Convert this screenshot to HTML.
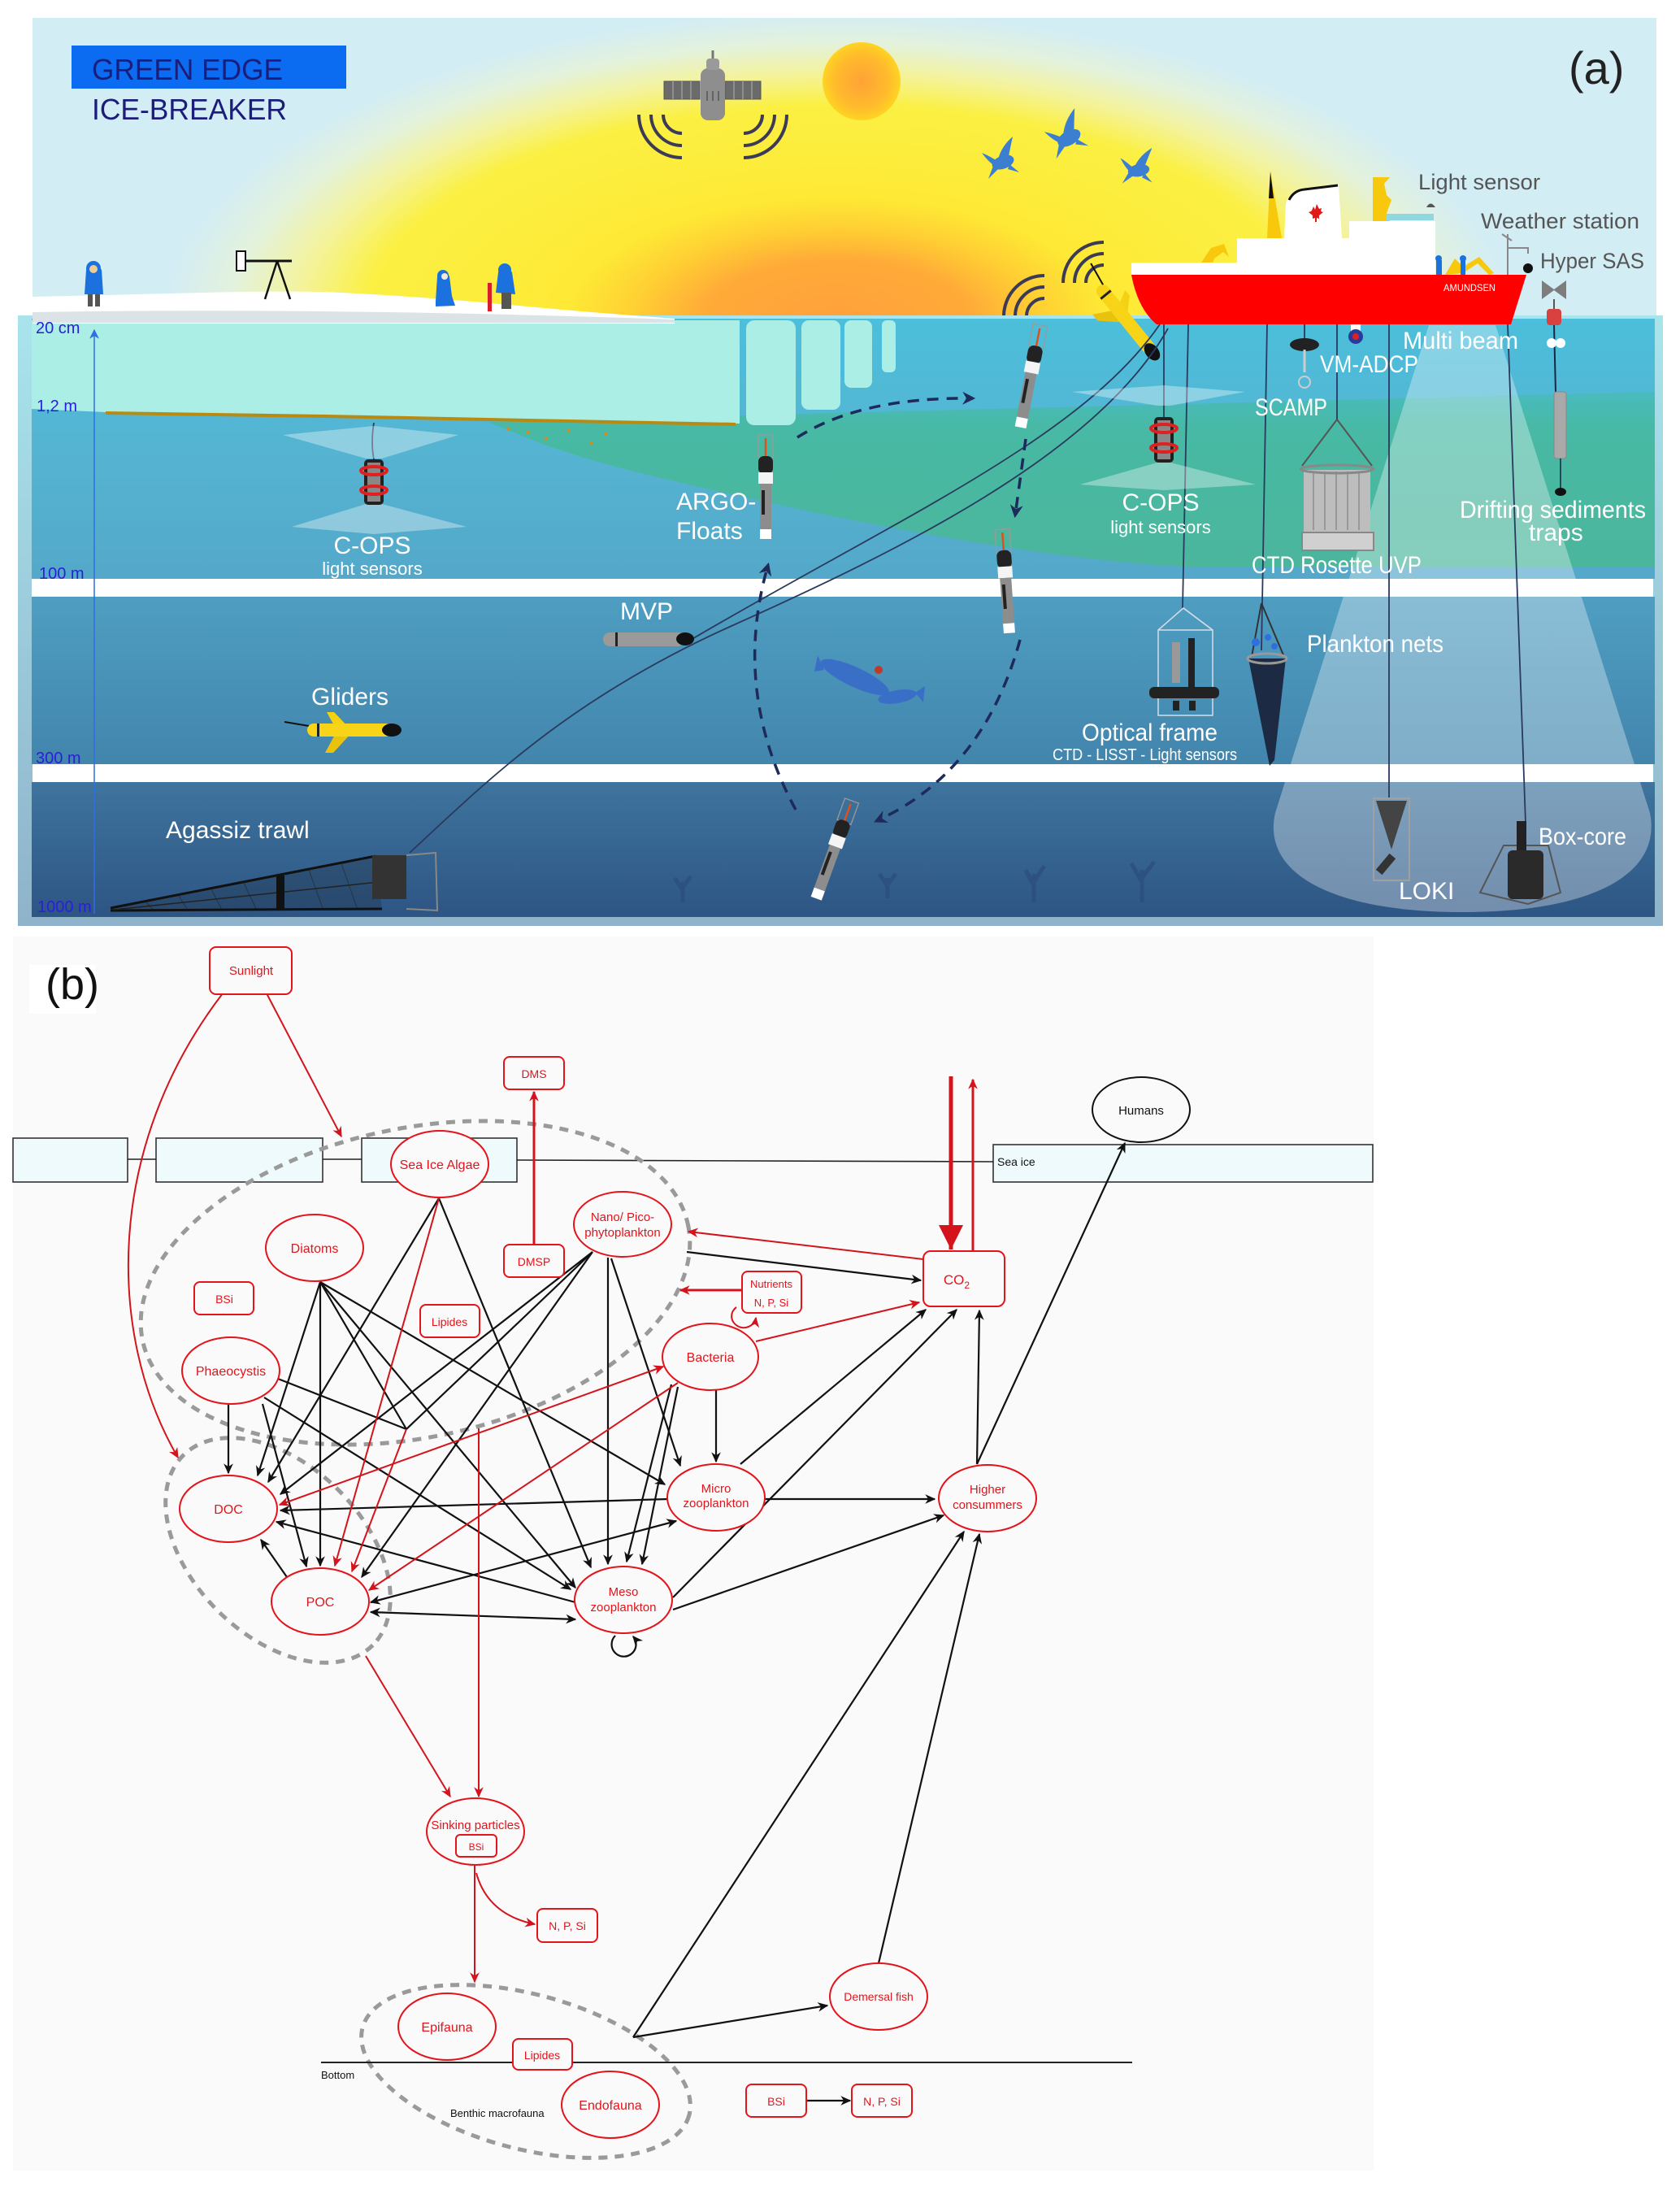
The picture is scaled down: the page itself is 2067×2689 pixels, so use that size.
<!DOCTYPE html>
<html><head><meta charset="utf-8"><style>
html,body{margin:0;padding:0;background:#fff;}
svg{display:block;}
text{font-family:"Liberation Sans",Arial,sans-serif;}
</style></head><body>
<svg width="2067" height="2689" viewBox="0 0 2067 2689" xmlns="http://www.w3.org/2000/svg">
<defs>
<radialGradient id="gGlow" cx="0.5" cy="0.5" r="0.5">
<stop offset="0" stop-color="#ffa03c"/>
<stop offset="0.2" stop-color="#ffab38"/>
<stop offset="0.3" stop-color="#ffcf33"/>
<stop offset="0.4" stop-color="#fee935"/>
<stop offset="0.7" stop-color="#fbf043"/>
<stop offset="0.8" stop-color="#f4f39a"/>
<stop offset="0.9" stop-color="#e3f2dc"/>
<stop offset="1" stop-color="#d3edf5"/>
</radialGradient>
<radialGradient id="gSun" cx="0.5" cy="0.5" r="0.5">
<stop offset="0" stop-color="#ffa236"/>
<stop offset="0.7" stop-color="#ffbc2c"/>
<stop offset="1" stop-color="#ffd422"/>
</radialGradient>
<linearGradient id="gFrame" x1="0" y1="0" x2="0" y2="1">
<stop offset="0" stop-color="#a9e4ec"/>
<stop offset="1" stop-color="#8fb3ca"/>
</linearGradient>
<linearGradient id="gSurf" x1="0" y1="0" x2="0" y2="1">
<stop offset="0" stop-color="#4bbfdb"/>
<stop offset="0.5" stop-color="#55b4d2"/>
<stop offset="1" stop-color="#54a8c9"/>
</linearGradient>
<linearGradient id="gMid" x1="0" y1="0" x2="0" y2="1">
<stop offset="0" stop-color="#4f9ec2"/>
<stop offset="1" stop-color="#4285ad"/>
</linearGradient>
<linearGradient id="gDeep" x1="0" y1="0" x2="0" y2="1">
<stop offset="0" stop-color="#3e749e"/>
<stop offset="1" stop-color="#2e5584"/>
</linearGradient>
<linearGradient id="gGreen" gradientUnits="userSpaceOnUse" x1="0" y1="470" x2="0" y2="700">
<stop offset="0" stop-color="#49bcc6"/>
<stop offset="0.25" stop-color="#48b9a4"/>
<stop offset="1" stop-color="#4bb69c"/>
</linearGradient>
<marker id="ab" viewBox="0 0 10 10" refX="9" refY="5" markerWidth="13" markerHeight="13" markerUnits="userSpaceOnUse" orient="auto-start-reverse"><path d="M0,0.5 L10,5 L0,9.5 L3,5 Z" fill="#111"/></marker>
<marker id="ar" viewBox="0 0 10 10" refX="9" refY="5" markerWidth="13" markerHeight="13" markerUnits="userSpaceOnUse" orient="auto-start-reverse"><path d="M0,0.5 L10,5 L0,9.5 L3,5 Z" fill="#d3141c"/></marker>
<marker id="arb" viewBox="0 0 10 10" refX="10" refY="5" markerWidth="30" markerHeight="30" markerUnits="userSpaceOnUse" orient="auto"><path d="M0,0 L10,5 L0,10 Z" fill="#d3141c"/></marker>
<marker id="ad" viewBox="0 0 10 10" refX="8" refY="5" markerWidth="16" markerHeight="16" markerUnits="userSpaceOnUse" orient="auto"><path d="M0,0 L10,5 L0,10 L3,5 Z" fill="#1e2a5a"/></marker>
<marker id="abl" viewBox="0 0 10 10" refX="9" refY="5" markerWidth="12" markerHeight="12" markerUnits="userSpaceOnUse" orient="auto-start-reverse"><path d="M0,0 L10,5 L0,10 L3,5 Z" fill="#2f6fe0"/></marker>
<clipPath id="skyClip"><rect x="40" y="22" width="1998" height="372"/></clipPath>
<g id="float">
<rect x="-9" y="0" width="18" height="28" fill="none" stroke="#9a9a9a" stroke-width="1.3"/>
<line x1="0" y1="4" x2="0" y2="26" stroke="#e0501a" stroke-width="2.5"/>
<rect x="-9" y="26" width="18" height="22" rx="7" fill="#222"/>
<rect x="-9" y="46" width="18" height="14" fill="#f4f4f4"/>
<rect x="-7" y="60" width="14" height="56" fill="#8d8d8d"/>
<rect x="-5" y="68" width="4" height="30" fill="#222"/>
<rect x="-7" y="116" width="14" height="12" fill="#fff"/>
</g>
<g id="glider">
<line x1="2" y1="-5" x2="-28" y2="-10" stroke="#111" stroke-width="2"/>
<path d="M36,0 L24,-22 L33,-22 L54,0 Z" fill="#f5d114"/>
<path d="M36,2 L22,28 L32,28 L56,2 Z" fill="#e8c20c"/>
<rect x="0" y="-8" width="104" height="16" rx="8" fill="#f7d417"/>
<rect x="12" y="-8" width="3" height="16" fill="#222"/>
<ellipse cx="104" cy="0" rx="12" ry="8" fill="#111"/>
</g>
<g id="cops">
<rect x="-12" y="0" width="24" height="56" rx="5" fill="#222"/>
<rect x="-8" y="4" width="16" height="48" fill="#888"/>
<ellipse cx="0" cy="14" rx="16" ry="5" fill="none" stroke="#e02020" stroke-width="4"/>
<ellipse cx="0" cy="38" rx="16" ry="5" fill="none" stroke="#e02020" stroke-width="4"/>
</g>
<g id="bird">
<ellipse cx="0" cy="6" rx="14" ry="8" fill="#3c7fd1" transform="rotate(-20)"/>
<path d="M-4,2 Q0,-14 14,-26 Q10,-8 8,4 Z" fill="#3c7fd1"/>
<path d="M-2,6 Q-14,-2 -24,-6 Q-14,8 -4,12 Z" fill="#3c7fd1"/>
<path d="M10,8 L22,18 L8,14 Z" fill="#3c7fd1"/>
<path d="M-10,10 L-16,26 L-4,14 Z" fill="#3c7fd1"/>
</g>
</defs>

<!-- ================= PANEL A ================= -->
<rect x="40" y="22" width="1998" height="372" fill="#d3edf5"/>
<g clip-path="url(#skyClip)">
<ellipse cx="1030" cy="395" rx="830" ry="380" fill="url(#gGlow)"/>
</g>
<circle cx="1060" cy="100" r="48" fill="url(#gSun)"/>

<!-- satellite -->
<g>
<rect x="817" y="100" width="44" height="22" fill="#6b6b6b" stroke="#555" stroke-width="1"/>
<rect x="892" y="100" width="44" height="22" fill="#6b6b6b" stroke="#555" stroke-width="1"/>
<path d="M828,100 V122 M839,100 V122 M850,100 V122 M903,100 V122 M914,100 V122 M925,100 V122" stroke="#999" stroke-width="1.5"/>
<rect x="862" y="84" width="30" height="64" rx="9" fill="#8e8e8e"/>
<rect x="869" y="72" width="16" height="14" rx="4" fill="#9a9a9a"/>
<line x1="877" y1="62" x2="877" y2="72" stroke="#777" stroke-width="3"/>
<path d="M870,112 V124 M877,112 V124 M884,112 V124" stroke="#555" stroke-width="1.5"/>
</g>
<g fill="none" stroke="#3b3b58" stroke-width="4">
<path d="M816,141 A23,23 0 0 0 839,164"/>
<path d="M801,141 A38,38 0 0 0 839,179"/>
<path d="M786,141 A53,53 0 0 0 839,194"/>
<path d="M938,141 A23,23 0 0 1 915,164"/>
<path d="M953,141 A38,38 0 0 1 915,179"/>
<path d="M968,141 A53,53 0 0 1 915,194"/>
</g>

<!-- birds -->
<use href="#bird" transform="translate(1232,194) scale(1.0)"/>
<use href="#bird" transform="translate(1312,164) scale(1.1) rotate(-10)"/>
<use href="#bird" transform="translate(1400,204) scale(0.95) rotate(10)"/>

<!-- title -->
<rect x="88" y="56" width="338" height="53" fill="#0b6cf2"/>
<text x="113" y="98" font-size="36" fill="#1c1c7a" textLength="235" lengthAdjust="spacingAndGlyphs">GREEN EDGE</text>
<text x="113" y="147" font-size="36" fill="#1c1c7a" textLength="240" lengthAdjust="spacingAndGlyphs">ICE-BREAKER</text>
<text x="1930" y="103" font-size="56" fill="#222">(a)</text>

<!-- ship signal arcs -->
<g fill="none" stroke="#3b3b58" stroke-width="4">
<path d="M1263,389 A22,22 0 0 1 1285,367"/>
<path d="M1249,389 A36,36 0 0 1 1285,353"/>
<path d="M1235,389 A50,50 0 0 1 1285,339"/>
<path d="M1336,348 A22,22 0 0 1 1358,326"/>
<path d="M1322,348 A36,36 0 0 1 1358,312"/>
<path d="M1308,348 A50,50 0 0 1 1358,298"/>
</g>

<!-- water tank -->
<rect x="22" y="388" width="2024" height="751" fill="url(#gFrame)"/>
<rect x="39" y="392" width="1997" height="320" fill="url(#gSurf)"/>
<path d="M600,519 L2036,482 L2036,697 L1460,697 C1300,690 1100,650 1000,630 C900,608 760,578 700,557 C660,545 630,530 600,519 Z" fill="url(#gGreen)"/>
<rect x="39" y="734" width="1997" height="206" fill="url(#gMid)"/>
<rect x="39" y="962" width="1997" height="166" fill="url(#gDeep)"/>
<rect x="39" y="712" width="1995" height="22" fill="#fff"/>
<rect x="40" y="940" width="1994" height="22" fill="#fff"/>

<!-- multi beam cone -->
<path d="M1758,400 L1840,400 L2030,1000 C2045,1075 1960,1122 1800,1122 C1640,1122 1552,1075 1569,1000 Z" fill="#fff" fill-opacity="0.33"/>

<!-- ice slab -->
<path d="M39,394 L910,394 L910,521 L700,517 L130,507 L39,503 Z" fill="#aaeee6"/>
<path d="M130,508 L400,512 L700,518 L905,522" fill="none" stroke="#b98a12" stroke-width="4"/>
<g fill="#d98a1c">
<circle cx="650" cy="532" r="2"/><circle cx="672" cy="540" r="2"/><circle cx="700" cy="530" r="2"/><circle cx="728" cy="545" r="2"/><circle cx="745" cy="534" r="2"/><circle cx="625" cy="528" r="2"/>
</g>
<rect x="918" y="394" width="61" height="129" rx="10" fill="#aaeee6"/>
<rect x="986" y="394" width="48" height="110" rx="9" fill="#aaeee6"/>
<rect x="1039" y="394" width="34" height="83" rx="8" fill="#aaeee6"/>
<rect x="1085" y="394" width="17" height="64" rx="6" fill="#aaeee6"/>

<!-- snow -->
<path d="M40,365 C200,362 330,356 420,360 C560,367 650,378 740,385 L830,392 L830,398 L40,398 Z" fill="#ffffff"/>
<path d="M40,384 Q400,378 830,393 L830,397 L40,397 Z" fill="#dbe3e6"/>

<!-- people & tripod -->
<g>
<rect x="108" y="360" width="6" height="17" fill="#555"/><rect x="117" y="360" width="6" height="17" fill="#555"/>
<path d="M104,362 L106,332 Q115,316 125,332 L127,362 Z" fill="#1b72de"/>
<circle cx="115" cy="330" r="9" fill="#1b72de"/><circle cx="115" cy="331" r="5" fill="#f0cc95"/>
<rect x="291" y="309" width="11" height="24" fill="#fff" stroke="#111" stroke-width="2"/>
<line x1="302" y1="321" x2="359" y2="321" stroke="#111" stroke-width="3"/>
<path d="M341,321 L326,368 M341,321 L357,368" stroke="#111" stroke-width="2.5"/>
<path d="M536,370 L538,340 Q546,326 553,340 L556,364 L560,376 L536,377 Z" fill="#1b72de"/>
<circle cx="545" cy="339" r="7" fill="#1b72de"/><circle cx="547" cy="340" r="4" fill="#f3e9d8"/>
<rect x="600" y="348" width="5" height="35" fill="#d81e2a"/>
<path d="M610,360 L613,335 Q620,322 630,335 L634,362 Z" fill="#1b72de"/>
<circle cx="621" cy="332" r="8" fill="#1b72de"/>
<rect x="617" y="360" width="12" height="20" fill="#555"/>
</g>

<!-- ship -->
<g>
<path d="M1563,211 L1559,293 L1577,293 Z" fill="#f7c80c"/>
<path d="M1563,211 L1561,244 L1567,244 Z" fill="#111"/>
<path d="M1689,218 L1710,218 L1703,226 L1706,240 L1712,246 L1706,262 L1710,272 L1689,272 Z" fill="#f7c80c"/>
<path d="M1580,293 L1582,250 Q1588,236 1600,234 L1647,228 L1651,293 Z" fill="#fff"/>
<path d="M1586,246 Q1592,234 1605,233 L1646,228" fill="none" stroke="#111" stroke-width="3"/>
<path d="M1614,259 l2,-5 2,4 2,-7 3,6 3,-1 -1,4 3,1 -5,4 0,4 -3,-1 0,5 -2,0 0,-5 -3,1 0,-4 -5,-4 3,-1 z" fill="#e01818"/>
<rect x="1660" y="272" width="106" height="22" fill="#fff"/>
<rect x="1705" y="263" width="59" height="8" fill="#8fd8e0"/>
<rect x="1522" y="293" width="244" height="31" fill="#fff"/>
<rect x="1392" y="323" width="374" height="16" fill="#fff"/>
<path d="M1478,323 L1490,305 L1506,300 L1512,316 L1505,310 L1494,318 L1492,323 Z" fill="#f7c80c"/>
<path d="M1778,338 L1790,318 L1800,328 L1820,316 L1838,336 L1832,338 L1818,324 L1800,336 Z" fill="#f7c80c"/>
<rect x="1767" y="320" width="7" height="18" fill="#1b72de"/><circle cx="1770" cy="318" r="4" fill="#1b72de"/>
<rect x="1797" y="320" width="6" height="18" fill="#1b72de"/><circle cx="1800" cy="318" r="4" fill="#1b72de"/>
<line x1="1855" y1="288" x2="1855" y2="338" stroke="#888" stroke-width="2"/>
<path d="M1848,288 L1860,296 M1855,305 L1880,305 L1880,312" stroke="#888" stroke-width="2" fill="none"/>
<circle cx="1880" cy="330" r="6" fill="#111"/>
<path d="M1755,255 Q1760,246 1766,255 Z" fill="#555"/>
<path d="M1392,338 L1878,338 L1859,399 L1423,399 Q1400,380 1392,338 Z" fill="#ff0000"/>
<text x="1776" y="358" font-size="12" fill="#fff" textLength="64" lengthAdjust="spacingAndGlyphs">AMUNDSEN</text>
</g>
<!-- hyper sas -->
<path d="M1897,345 L1912,356 L1927,345 L1927,368 L1912,357 L1897,368 Z" fill="#7d7d7d"/>
<line x1="1912" y1="368" x2="1912" y2="385" stroke="#555" stroke-width="2"/>
<rect x="1903" y="380" width="18" height="20" rx="4" fill="#d94040"/>
<line x1="1912" y1="400" x2="1914" y2="482" stroke="#1a2740" stroke-width="2"/>
<circle cx="1909" cy="422" r="6" fill="#fff"/><circle cx="1920" cy="422" r="6" fill="#fff"/>
<rect x="1912" y="482" width="15" height="82" rx="3" fill="#a9a9a9" stroke="#888"/>
<line x1="1920" y1="564" x2="1920" y2="600" stroke="#1a2740" stroke-width="1.5"/>
<ellipse cx="1920" cy="605" rx="7" ry="5" fill="#111"/>

<!-- surface glider -->
<use href="#glider" transform="translate(1352,352) rotate(51)"/>

<!-- cables -->
<g fill="none" stroke="#2a3a5e" stroke-width="1.8">
<path d="M1427,399 C1330,540 1100,640 850,787"/>
<path d="M1437,404 C1350,560 1100,680 900,770 S600,960 504,1049"/>
<path d="M1432,399 L1432,535"/>
<path d="M1462,399 L1455,748"/>
<path d="M1559,399 L1552,800"/>
<path d="M1645,399 L1645,516"/>
<path d="M1605,399 L1605,420"/>
<path d="M1709,399 L1709,982"/>
<path d="M1855,399 L1877,1012"/>
<path d="M460,520 Q456,545 460,565"/>
</g>

<!-- C-OPS left -->
<path d="M348,535 L460,524 L564,535 L470,564 L450,564 Z" fill="#fff" fill-opacity="0.35"/>
<path d="M450,620 L470,620 L574,648 L460,657 L359,648 Z" fill="#fff" fill-opacity="0.35"/>
<use href="#cops" transform="translate(460,565)"/>
<!-- C-OPS right -->
<path d="M1319,482 L1432,474 L1532,482 L1440,499 L1424,499 Z" fill="#fff" fill-opacity="0.35"/>
<path d="M1424,569 L1440,569 L1545,596 L1432,603 L1329,596 Z" fill="#fff" fill-opacity="0.35"/>
<use href="#cops" transform="translate(1432,513)"/>

<!-- VM-ADCP / SCAMP / multibeam -->
<ellipse cx="1605" cy="424" rx="18" ry="8" fill="#222"/>
<line x1="1605" y1="430" x2="1605" y2="458" stroke="#ccc" stroke-width="3"/>
<circle cx="1605" cy="470" r="7" fill="none" stroke="#ccc" stroke-width="2"/>
<rect x="1662" y="399" width="12" height="10" fill="#fff"/>
<circle cx="1668" cy="414" r="9" fill="#2a3a9a"/><circle cx="1668" cy="414" r="4" fill="#e02020"/>

<!-- CTD rosette -->
<path d="M1645,516 L1602,573 M1645,516 L1688,573" stroke="#555" stroke-width="2" fill="none"/>
<rect x="1604" y="578" width="82" height="76" fill="#bdbdbd"/>
<path d="M1616,580 V652 M1630,580 V652 M1644,580 V652 M1658,580 V652 M1672,580 V652" stroke="#999" stroke-width="2"/>
<ellipse cx="1645" cy="577" rx="45" ry="5" fill="none" stroke="#888" stroke-width="3"/>
<rect x="1602" y="655" width="88" height="22" fill="#d0d0d0" stroke="#888" stroke-width="2"/>

<!-- optical frame -->
<g fill="none" stroke="#d6dde4" stroke-width="1.5">
<path d="M1456,748 L1425,775 L1425,880 L1492,880 L1492,775 Z"/>
<path d="M1456,748 L1492,775 M1425,775 L1492,775"/>
</g>
<rect x="1442" y="790" width="10" height="50" fill="#999"/>
<rect x="1462" y="785" width="8" height="70" fill="#222"/>
<rect x="1414" y="845" width="86" height="14" rx="6" fill="#222"/>
<rect x="1443" y="862" width="8" height="12" fill="#222"/><rect x="1463" y="862" width="8" height="12" fill="#222"/>

<!-- plankton net -->
<path d="M1552,742 L1540,808 M1552,742 L1580,808" stroke="#333" stroke-width="2" fill="none"/>
<circle cx="1545" cy="790" r="5" fill="#2f6fe0"/><circle cx="1560" cy="784" r="4" fill="#2f6fe0"/><circle cx="1568" cy="795" r="4" fill="#2f6fe0"/>
<path d="M1536,810 L1582,810 L1568,935 L1562,942 Z" fill="#1d2a44"/>
<ellipse cx="1559" cy="810" rx="24" ry="6" fill="none" stroke="#999" stroke-width="3"/>

<!-- LOKI -->
<rect x="1690" y="982" width="44" height="101" fill="none" stroke="#a0a0a0" stroke-width="2"/>
<path d="M1693,985 L1731,985 L1712,1045 Z" fill="#444"/>
<rect x="1700" y="1050" width="10" height="26" fill="#333" transform="rotate(40 1705 1063)"/>

<!-- box core -->
<path d="M1821,1098 L1850,1040 L1905,1040 L1920,1098 L1880,1112 Z" fill="none" stroke="#555" stroke-width="2"/>
<rect x="1866" y="1010" width="12" height="38" fill="#222"/>
<rect x="1855" y="1046" width="44" height="60" rx="6" fill="#2a2a2a"/>

<!-- ARGO floats -->
<use href="#float" transform="translate(942,535)"/>
<use href="#float" transform="translate(1280,400) rotate(11)"/>
<use href="#float" transform="translate(1233,651) rotate(-4)"/>
<use href="#float" transform="translate(1048,985) rotate(20)"/>

<!-- dashed trajectories -->
<g fill="none" stroke="#1e2a5a" stroke-width="3.5" stroke-dasharray="14 10" marker-end="url(#ad)">
<path d="M981,538 Q1060,488 1197,490"/>
<path d="M1262,540 L1249,634"/>
<path d="M1255,787 Q1210,950 1078,1010"/>
<path d="M979,996 Q900,850 945,695"/>
</g>

<!-- MVP -->
<rect x="742" y="778" width="100" height="17" rx="8" fill="#9a9a9a"/>
<rect x="757" y="778" width="3" height="17" fill="#222"/>
<ellipse cx="843" cy="786" rx="11" ry="8" fill="#111"/>

<!-- deep glider -->
<use href="#glider" transform="translate(378,898)"/>

<!-- fish -->
<ellipse cx="1052" cy="833" rx="46" ry="12" fill="#3a6fc7" transform="rotate(25 1052 833)"/>
<path d="M1006,806 L1014,824 L1002,826 Z" fill="#3a6fc7"/>
<ellipse cx="1104" cy="857" rx="24" ry="8" fill="#3a6fc7" transform="rotate(-10 1104 857)"/>
<path d="M1126,852 L1138,844 L1136,864 Z" fill="#3a6fc7"/>
<circle cx="1081" cy="824" r="5" fill="#c0392b"/>

<!-- trawl -->
<path d="M136,1117 L462,1052 L470,1118 L140,1122 Z" fill="#1e2a3a" fill-opacity="0.3"/>
<g stroke="#1a1a1a" stroke-width="1" opacity="0.5">
<path d="M180,1110 L190,1121 M220,1102 L232,1121 M260,1094 L274,1121 M300,1086 L316,1120 M380,1070 L398,1120 M420,1062 L440,1119"/>
</g>
<path d="M136,1117 L462,1053" stroke="#111" stroke-width="3"/>
<path d="M136,1120 L470,1118" stroke="#111" stroke-width="3"/>
<path d="M140,1119 L466,1085" stroke="#222" stroke-width="1.5"/>
<rect x="340" y="1077" width="10" height="42" fill="#111"/>
<rect x="458" y="1052" width="42" height="54" fill="#333"/>
<path d="M500,1052 L536,1049 L538,1120 L500,1118" fill="none" stroke="#888" stroke-width="2"/>

<!-- corals -->
<g fill="none" stroke="#2a4a7a" stroke-width="5" opacity="0.6">
<path d="M1272,1110 L1272,1075 M1272,1090 L1262,1070 M1272,1085 L1285,1065"/>
<path d="M1405,1110 L1405,1070 M1405,1085 L1392,1062 M1405,1080 L1420,1060"/>
<path d="M1092,1105 L1092,1080 M1092,1090 L1082,1075 M1092,1088 L1102,1075"/>
<path d="M840,1110 L840,1085 M840,1095 L830,1080 M840,1092 L850,1078"/>
</g>

<!-- depth scale -->
<line x1="116" y1="406" x2="116" y2="1124" stroke="#2f6fe0" stroke-width="1.5" marker-start="url(#abl)"/>
<g fill="#2a1fd8" font-size="20">
<text x="44" y="410">20 cm</text>
<text x="45" y="506">1,2 m</text>
<text x="48" y="712">100 m</text>
<text x="44" y="939">300 m</text>
<text x="46" y="1122">1000 m</text>
</g>

<!-- water labels -->
<g fill="#fff" font-size="30">
<text x="458" y="681" text-anchor="middle">C-OPS</text>
<text x="458" y="707" text-anchor="middle" font-size="22">light sensors</text>
<text x="383" y="867">Gliders</text>
<text x="204" y="1031">Agassiz trawl</text>
<text x="763" y="762">MVP</text>
<text x="832" y="627">ARGO-</text>
<text x="832" y="663">Floats</text>
<text x="1428" y="628" text-anchor="middle">C-OPS</text>
<text x="1428" y="656" text-anchor="middle" font-size="22">light sensors</text>
<text x="1726" y="429" textLength="142" lengthAdjust="spacingAndGlyphs">Multi beam</text>
<text x="1624" y="458" textLength="121" lengthAdjust="spacingAndGlyphs">VM-ADCP</text>
<text x="1544" y="511" textLength="89" lengthAdjust="spacingAndGlyphs">SCAMP</text>
<text x="1540" y="705" textLength="209" lengthAdjust="spacingAndGlyphs">CTD Rosette UVP</text>
<text x="1796" y="637" textLength="229" lengthAdjust="spacingAndGlyphs">Drifting sediments</text>
<text x="1881" y="665">traps</text>
<text x="1608" y="802" textLength="168" lengthAdjust="spacingAndGlyphs">Plankton nets</text>
<text x="1331" y="911" textLength="167" lengthAdjust="spacingAndGlyphs">Optical frame</text>
<text x="1295" y="935" font-size="20" textLength="227" lengthAdjust="spacingAndGlyphs">CTD - LISST - Light sensors</text>
<text x="1721" y="1106">LOKI</text>
<text x="1893" y="1039" textLength="108" lengthAdjust="spacingAndGlyphs">Box-core</text>
</g>
<g fill="#555" font-size="27">
<text x="1745" y="233" textLength="150" lengthAdjust="spacingAndGlyphs">Light sensor</text>
<text x="1822" y="281" textLength="195" lengthAdjust="spacingAndGlyphs">Weather station</text>
<text x="1895" y="330" textLength="128" lengthAdjust="spacingAndGlyphs">Hyper SAS</text>
</g>

<!-- ================= PANEL B ================= -->
<rect x="16" y="1152" width="1674" height="1518" fill="#fafafa"/>
<rect x="36" y="1187" width="82" height="60" fill="#fff"/>
<text x="56" y="1229" font-size="54" fill="#111">(b)</text>

<!-- ice boxes -->
<g fill="#eefafc" stroke="#333" stroke-width="1.6">
<rect x="16" y="1400" width="141" height="54"/>
<rect x="192" y="1400" width="205" height="54"/>
<rect x="445" y="1400" width="191" height="54"/>
<rect x="1222" y="1408" width="467" height="46"/>
</g>
<path d="M157,1426 L192,1426 M397,1426 L445,1426 M636,1427 L1222,1429" stroke="#222" stroke-width="1.6"/>
<text x="1227" y="1434" font-size="14" fill="#111">Sea ice</text>

<!-- dashed groups -->
<g fill="none" stroke="#9a9a9a" stroke-width="5" stroke-dasharray="11 9">
<ellipse cx="511" cy="1578" rx="343" ry="190" transform="rotate(-12 511 1578)"/>
<ellipse cx="342" cy="1907" rx="165" ry="105" transform="rotate(45 342 1907)"/>
<ellipse cx="647" cy="2548" rx="208" ry="95" transform="rotate(15 647 2548)"/>
</g>

<!-- bottom line -->
<line x1="395" y1="2537" x2="1393" y2="2537" stroke="#222" stroke-width="2"/>
<text x="395" y="2557" font-size="13" fill="#111">Bottom</text>
<text x="554" y="2604" font-size="13" fill="#111">Benthic macrofauna</text>

<!-- black edges -->
<g stroke="#111" stroke-width="2.2" fill="none" marker-end="url(#ab)">
<path d="M394,1577 L317,1815"/>
<path d="M394,1577 L394,1926"/>
<path d="M394,1577 L708,1953"/>
<path d="M394,1577 L818,1826"/>
<path d="M540,1474 L330,1823"/>
<path d="M540,1474 L727,1928"/>
<path d="M281,1728 L281,1812"/>
<path d="M323,1727 L377,1927"/>
<path d="M325,1719 L702,1955"/>
<path d="M729,1540 L345,1838"/>
<path d="M729,1540 L445,1940"/>
<path d="M748,1547 L748,1924"/>
<path d="M752,1548 L837,1803"/>
<path d="M826,1703 L771,1921"/>
<path d="M834,1706 L790,1924"/>
<path d="M881,1710 L881,1798"/>
<path d="M822,1844 L345,1858"/>
<path d="M708,1971 L340,1872"/>
<path d="M832,1871 L456,1971" marker-start="url(#ab)"/>
<path d="M456,1983 L708,1992" marker-start="url(#ab)"/>
<path d="M353,1940 L321,1894"/>
<path d="M845,1540 L1133,1575"/>
<path d="M911,1801 L1139,1611"/>
<path d="M828,1965 L1177,1611"/>
<path d="M1202,1801 L1205,1612"/>
<path d="M1202,1801 L1384,1406"/>
<path d="M941,1844 L1150,1844"/>
<path d="M828,1980 L1161,1864"/>
<path d="M779,2506 L1186,1884"/>
<path d="M779,2506 L1018,2467"/>
<path d="M1081,2415 L1205,1887"/>
<path d="M992,2584 L1046,2584"/>
<path d="M757,2012 A15,15 0 1 0 779,2013"/>
</g>
<g stroke="#111" stroke-width="2.2" fill="none">
<path d="M394,1577 L500,1758 M342,1696 L500,1758 M729,1540 L500,1758"/>
</g>

<!-- red edges -->
<g stroke="#d3141c" stroke-width="2" fill="none" marker-end="url(#ar)">
<path d="M274,1222 C130,1410 130,1640 219,1793"/>
<path d="M328,1222 L420,1398"/>
<path d="M657,1531 L657,1343" stroke-width="3"/>
<path d="M540,1474 L412,1926"/>
<path d="M500,1758 L433,1933"/>
<path d="M834,1701 L454,1956"/>
<path d="M344,1851 L816,1681" marker-start="url(#ar)"/>
<path d="M1136,1549 L847,1515"/>
<path d="M913,1587 L837,1587" stroke-width="3"/>
<path d="M930,1650 L1131,1602"/>
<path d="M906,1608 A15,14 0 1 0 930,1621"/>
<path d="M1197,1539 L1197,1328" stroke-width="3"/>
<path d="M589,1757 L589,2210"/>
<path d="M450,2037 L554,2210"/>
<path d="M584,2295 L584,2438"/>
<path d="M586,2304 Q600,2355 658,2367"/>
</g>
<path d="M1170,1324 L1170,1537" stroke="#d3141c" stroke-width="5" marker-end="url(#arb)"/>

<!-- red nodes -->
<g fill="#fafafa" stroke="#e3141b" stroke-width="2">
<rect x="258" y="1165" width="101" height="58" rx="8"/>
<rect x="620" y="1300" width="74" height="40" rx="7"/>
<rect x="620" y="1531" width="74" height="40" rx="7"/>
<rect x="239" y="1577" width="73" height="40" rx="7"/>
<rect x="517" y="1605" width="73" height="40" rx="7"/>
<rect x="913" y="1564" width="73" height="51" rx="7"/>
<rect x="1136" y="1539" width="100" height="68" rx="9"/>
<rect x="661" y="2348" width="74" height="41" rx="7"/>
<rect x="631" y="2508" width="73" height="38" rx="7"/>
<rect x="918" y="2564" width="74" height="40" rx="7"/>
<rect x="1048" y="2564" width="74" height="40" rx="7"/>
<ellipse cx="541" cy="1432" rx="60" ry="41"/>
<ellipse cx="766" cy="1506" rx="60" ry="40"/>
<ellipse cx="387" cy="1535" rx="60" ry="41"/>
<ellipse cx="284" cy="1686" rx="60" ry="41"/>
<ellipse cx="874" cy="1669" rx="59" ry="41"/>
<ellipse cx="281" cy="1856" rx="60" ry="41"/>
<ellipse cx="394" cy="1970" rx="60" ry="41"/>
<ellipse cx="881" cy="1842" rx="60" ry="41"/>
<ellipse cx="767" cy="1968" rx="60" ry="41"/>
<ellipse cx="1215" cy="1843" rx="60" ry="41"/>
<ellipse cx="585" cy="2253" rx="60" ry="41"/>
<ellipse cx="550" cy="2493" rx="60" ry="41"/>
<ellipse cx="751" cy="2589" rx="60" ry="41"/>
<ellipse cx="1081" cy="2456" rx="60" ry="41"/>
<rect x="561" y="2257" width="50" height="27" rx="5"/>
</g>
<ellipse cx="1404" cy="1365" rx="60" ry="40" fill="#fafafa" stroke="#111" stroke-width="2"/>
<text x="1404" y="1371" font-size="15" fill="#111" text-anchor="middle">Humans</text>

<g fill="#e3141b" font-size="16" text-anchor="middle">
<text x="309" y="1199" font-size="15">Sunlight</text>
<text x="657" y="1326" font-size="14">DMS</text>
<text x="657" y="1557" font-size="14">DMSP</text>
<text x="276" y="1603" font-size="14">BSi</text>
<text x="553" y="1631" font-size="14">Lipides</text>
<text x="949" y="1584" font-size="13">Nutrients</text>
<text x="949" y="1607" font-size="13">N, P, Si</text>
<text x="1177" y="1580" font-size="17">CO<tspan font-size="12" dy="5">2</tspan></text>
<text x="698" y="2374" font-size="14">N, P, Si</text>
<text x="667" y="2533" font-size="14">Lipides</text>
<text x="955" y="2590" font-size="14">BSi</text>
<text x="1085" y="2590" font-size="14">N, P, Si</text>
<text x="541" y="1438">Sea Ice Algae</text>
<text x="766" y="1502" font-size="15">Nano/ Pico-</text>
<text x="766" y="1521" font-size="15">phytoplankton</text>
<text x="387" y="1541">Diatoms</text>
<text x="284" y="1692">Phaeocystis</text>
<text x="874" y="1675">Bacteria</text>
<text x="281" y="1862">DOC</text>
<text x="394" y="1976">POC</text>
<text x="881" y="1836" font-size="15">Micro</text>
<text x="881" y="1854" font-size="15">zooplankton</text>
<text x="767" y="1963" font-size="15">Meso</text>
<text x="767" y="1982" font-size="15">zooplankton</text>
<text x="1215" y="1837" font-size="15">Higher</text>
<text x="1215" y="1856" font-size="15">consummers</text>
<text x="585" y="2250" font-size="15">Sinking particles</text>
<text x="586" y="2276" font-size="12">BSi</text>
<text x="550" y="2499">Epifauna</text>
<text x="751" y="2595">Endofauna</text>
<text x="1081" y="2461" font-size="14">Demersal fish</text>
</g>
</svg>
</body></html>
